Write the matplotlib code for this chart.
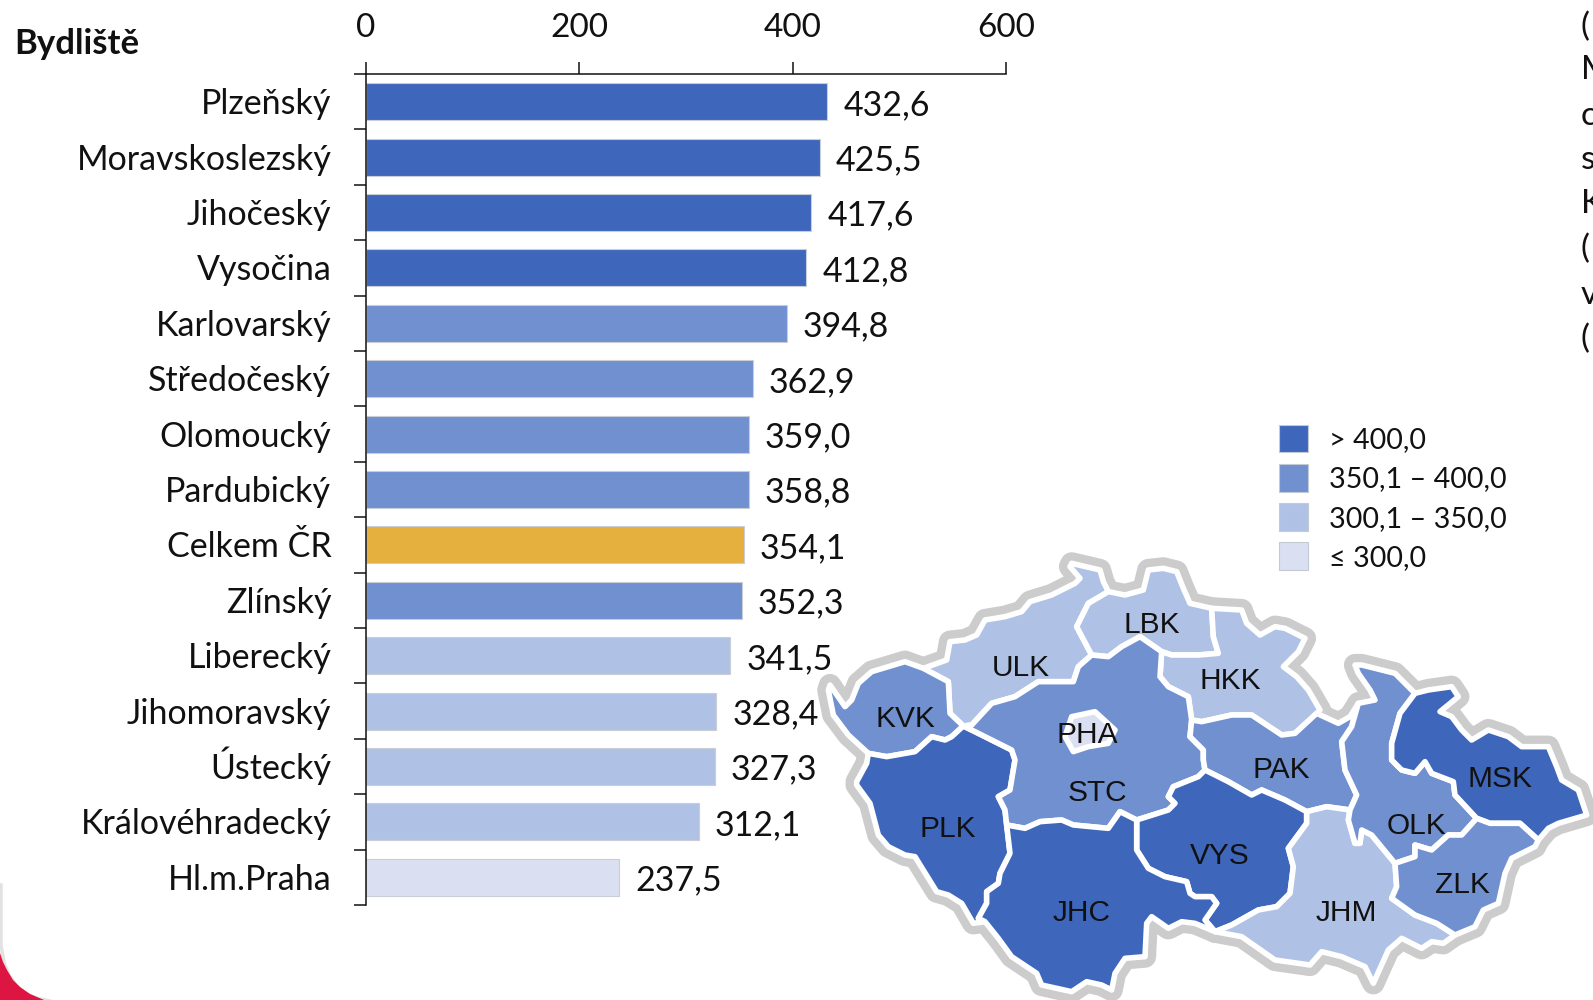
import matplotlib
matplotlib.use('Agg')
import matplotlib.pyplot as plt
from matplotlib.patches import Patch, Polygon

plt.rcParams['font.family'] = ['Lato', 'Open Sans', 'DejaVu Sans']

# data
regions = ['Plzeňský', 'Moravskoslezský', 'Jihočeský', 'Vysočina', 'Karlovarský',
           'Středočeský', 'Olomoucký', 'Pardubický', 'Celkem ČR', 'Zlínský',
           'Liberecký', 'Jihomoravský', 'Ústecký', 'Královéhradecký', 'Hl.m.Praha']
values = [432.6, 425.5, 417.6, 412.8, 394.8, 362.9, 359.0, 358.8, 354.1, 352.3,
          341.5, 328.4, 327.3, 312.1, 237.5]
x_ticks = [0, 200, 400, 600]
legend_labels = ['> 400,0', '350,1 – 400,0', '300,1 – 350,0', '≤ 300,0']
side_text = ['(', 'M', 'c', 's', 'K', '(', 'v', '(']

DARK = '#3E67BC'
MID = '#7090D0'
LIGHT = '#AFC2E6'
PALE = '#DAE0F1'
GOLD = '#E6B03E'


def bar_colour(name, v):
    if name == 'Celkem ČR':
        return GOLD
    if v > 400:
        return DARK
    if v > 350:
        return MID
    if v > 300:
        return LIGHT
    return PALE


# map borders, traced on four 3x crops of the map
def A(pts):
    return [(815 + x / 3, 540 + y / 3) for x, y in pts]


def B(pts):
    return [(1195 + x / 3, 540 + y / 3) for x, y in pts]


def C(pts):
    return [(815 + x / 3, 760 + y / 3) for x, y in pts]


def D(pts):
    return [(1195 + x / 3, 760 + y / 3) for x, y in pts]


def rev(seg):
    return seg[::-1]


ulk_outer = A([(325, 385), (395, 360), (405, 305), (450, 300), (485, 285), (510, 240), (570, 230), (620, 215),
               (645, 185), (710, 165), (780, 130), (795, 115), (765, 80), (770, 70), (855, 90), (865, 125), (880, 155)])
lbk_outer = A([(880, 155), (930, 165), (985, 150), (1000, 90), (1045, 85), (1085, 95), (1105, 145), (1125, 190),
               (1190, 205)])
hkk_outer = B([(50, 205), (140, 210), (155, 250), (195, 285), (240, 260), (270, 265), (330, 295), (310, 335),
               (265, 380), (305, 410), (340, 450), (375, 510)])
pak_outer = B([(365, 520), (430, 550), (465, 530), (490, 490)])
olk_outer = B([(490, 490), (540, 480), (525, 450), (490, 400), (480, 375), (500, 375), (600, 400), (640, 440), (660, 460)])
msk_outer = B([(660, 460), (700, 450), (770, 440), (790, 470), (735, 515), (770, 530), (800, 570), (830, 600),
               (880, 570), (940, 590), (980, 620), (1060, 620), (1085, 680)]) + \
            D([(1100, 60), (1150, 90), (1175, 165), (1090, 190), (1060, 205), (1030, 240)])
zlk_outer = D([(1030, 240), (1020, 260), (950, 295), (930, 340), (910, 430), (865, 450), (840, 500), (780, 525)])
jhm_outer = D([(780, 525), (745, 550), (710, 545), (680, 565), (620, 535), (580, 570), (535, 670), (510, 620),
               (440, 590), (380, 575), (345, 615), (240, 600), (190, 565), (140, 530), (60, 515)])
jhc_outer = D([(60, 515), (0, 490)]) + \
            C([(1100, 485), (1060, 505), (1010, 470), (995, 490), (990, 590), (930, 595), (900, 640), (890, 690),
               (860, 675), (815, 665), (770, 695), (680, 675), (665, 640), (590, 590), (550, 535), (510, 485)])
plk_outer = C([(510, 485), (475, 490), (440, 430), (400, 405), (365, 395), (300, 290), (270, 285), (220, 260),
               (190, 225), (165, 130), (125, 75), (125, 65), (155, 10)]) + A([(160, 640)])
kvk_outer = A([(160, 640), (100, 585), (55, 525), (40, 450), (45, 435), (90, 500), (110, 480), (130, 430),
               (170, 395), (270, 365), (325, 385)])

ulk_lbk = A([(880, 155), (820, 190), (785, 260), (830, 345)])
lbk_stc = A([(830, 345), (880, 350), (920, 320), (975, 290), (1040, 335)])
lbk_hkk = B([(50, 205), (55, 290), (70, 340), (10, 345)]) + A([(1070, 345), (1040, 335)])
stc_hkk = A([(1040, 335), (1035, 410), (1060, 440), (1120, 470), (1130, 540)])
ulk_kvk = A([(325, 385), (400, 425), (405, 520), (445, 558)])
ulk_stc = A([(445, 558), (470, 555), (530, 490), (600, 470), (670, 425), (775, 425), (790, 380), (830, 345)])
kvk_plk = A([(445, 558), (410, 590), (390, 600), (350, 590), (300, 635), (215, 650), (160, 640)])
plk_stc = A([(445, 558), (480, 575), (590, 630), (600, 660)]) + C([(600, 0), (585, 90), (550, 110), (570, 150), (575, 195)])
plk_jhc = C([(575, 195), (585, 280), (555, 340), (550, 370), (515, 395), (515, 430), (490, 475), (510, 485)])
stc_jhc = C([(575, 195), (630, 205), (675, 185), (740, 180), (775, 195), (880, 205), (915, 155), (965, 180)])
jhc_vys = C([(965, 180), (965, 270), (1000, 325), (1050, 350), (1115, 365), (1125, 400)]) + \
          D([(0, 410), (50, 410), (65, 430), (30, 480), (60, 515)])
stc_vys = C([(965, 180), (1060, 150), (1080, 130), (1060, 110), (1075, 80), (1150, 50), (1170, 30)])
stc_pak = A([(1130, 540), (1125, 590), (1165, 630), (1165, 660)]) + C([(1170, 30)])
pak_hkk = A([(1130, 540)]) + B([(20, 545), (110, 525), (170, 525), (260, 585), (300, 580), (365, 520)])
pak_vys = C([(1170, 30)]) + D([(100, 65), (170, 105), (200, 90), (270, 120), (335, 155)])
pak_jhm = D([(335, 155), (395, 140), (465, 150)])
pak_olk = D([(465, 150), (485, 105), (450, 30)]) + B([(440, 605), (470, 560), (490, 490)])
vys_jhm = D([(335, 155), (335, 190), (280, 265), (295, 320), (285, 400), (245, 440), (190, 450), (110, 495), (60, 515)])
jhm_olk = D([(465, 150), (460, 180), (480, 250), (495, 250), (500, 210), (530, 225), (600, 310)])
jhm_zlk = D([(600, 310), (605, 380), (590, 415), (660, 465), (725, 490), (780, 525)])
olk_zlk = D([(600, 310), (660, 290), (660, 255), (710, 270), (760, 225), (800, 225), (845, 175)])
olk_msk = B([(660, 460), (615, 520), (590, 610), (590, 660), (620, 690), (660, 700), (690, 665)]) + \
          D([(710, 40), (775, 65), (780, 105), (845, 175)])
msk_zlk = D([(845, 175), (885, 190), (975, 190), (1030, 240)])

ULK = ulk_outer + ulk_lbk + rev(ulk_stc) + rev(ulk_kvk)
LBK = lbk_outer + lbk_hkk + rev(lbk_stc) + rev(ulk_lbk)
HKK = hkk_outer + rev(pak_hkk) + rev(stc_hkk) + rev(lbk_hkk)
KVK = kvk_outer + ulk_kvk + kvk_plk
PLK = plk_outer + rev(kvk_plk) + plk_stc + plk_jhc
STC = lbk_stc + stc_hkk + stc_pak + rev(stc_vys) + rev(stc_jhc) + rev(plk_stc) + ulk_stc
PAK = pak_hkk + pak_outer + rev(pak_olk) + rev(pak_jhm) + rev(pak_vys) + rev(stc_pak)
VYS = pak_vys + vys_jhm + rev(jhc_vys) + stc_vys
JHC = jhc_outer + rev(plk_jhc) + stc_jhc + jhc_vys
JHM = pak_jhm + jhm_olk + jhm_zlk + jhm_outer + rev(vys_jhm)
OLK = pak_olk + olk_outer + olk_msk + rev(olk_zlk) + rev(jhm_olk)
MSK = msk_outer + rev(msk_zlk) + rev(olk_msk)
ZLK = msk_zlk + zlk_outer + rev(jhm_zlk) + olk_zlk
PHA = A([(840, 515), (900, 570), (880, 610), (820, 620), (775, 635), (750, 590), (770, 530)])

map_shapes = [(ULK, LIGHT), (LBK, LIGHT), (HKK, LIGHT), (KVK, MID), (PLK, DARK), (STC, MID),
              (PAK, MID), (VYS, DARK), (JHC, DARK), (JHM, LIGHT), (OLK, MID), (MSK, DARK),
              (ZLK, MID), (PHA, PALE)]
map_labels = [('LBK', 1152, 625), ('ULK', 1021, 668), ('HKK', 1230, 681), ('KVK', 905, 719),
              ('PHA', 1087, 735), ('PAK', 1281, 770), ('STC', 1097, 793), ('MSK', 1500, 779),
              ('OLK', 1416, 826), ('PLK', 948, 829), ('VYS', 1220, 856), ('ZLK', 1462, 885),
              ('JHC', 1082, 913), ('JHM', 1346, 913)]

W, H = 1593, 1000
fig = plt.figure(figsize=(W / 100, H / 100), dpi=100)


def px_axes(x0, y0, x1, y1):
    return fig.add_axes([x0 / W, 1 - y1 / H, (x1 - x0) / W, (y1 - y0) / H])


# page background: the corner and the clipped text on the right
bg = px_axes(0, 0, W, H)
bg.set_xlim(0, W)
bg.set_ylim(H, 0)
bg.axis('off')
corner = [(0, 953), (3, 962), (7, 970), (13, 980), (20, 987), (30, 994), (44, 1000), (0, 1000)]
bg.plot([1, 1, 4, 9, 16, 25, 36, 50], [885, 945, 963, 975, 985, 993, 998, 1001], color='#e2e2e2', lw=2.5, zorder=1)
bg.add_patch(Polygon(corner, closed=True, fc='#DC1543', ec='none', zorder=2))
for t, y in zip(side_text, [27, 70, 116, 160, 204, 249, 295, 339]):
    bg.text(1581, y, t, fontsize=24, va='center', ha='left', color='#111111')

# bars
ax = px_axes(366, 74, 1006, 905)
ax.patch.set_alpha(0)
pos = list(range(len(regions)))
cols = [bar_colour(n, v) for n, v in zip(regions, values)]
ax.barh(pos, values, height=0.67, color=cols, edgecolor='#c9ced6', linewidth=0.8)
ax.set_xlim(0, 600)
ax.set_ylim(len(regions) - 0.5, -0.5)
ax.xaxis.tick_top()
ax.set_xticks(x_ticks)
ax.set_xticklabels([str(t) for t in x_ticks], fontsize=24)
ax.tick_params(axis='x', length=9, width=1.1, pad=13, color='#111111', labelcolor='#111111')
ax.set_yticks(pos)
ax.set_yticklabels([''] * len(pos))
ax.tick_params(axis='y', which='major', length=0)
ax.set_yticks([i - 0.5 for i in range(len(regions) + 1)], minor=True)
ax.tick_params(axis='y', which='minor', length=9, width=1.1, color='#111111')
for s in ['right', 'bottom']:
    ax.spines[s].set_visible(False)
for s in ['left', 'top']:
    ax.spines[s].set_linewidth(1.1)
    ax.spines[s].set_color('#111111')
for i, (name, v) in enumerate(zip(regions, values)):
    ax.annotate(name, (0, i), xytext=(-25, -9), textcoords='offset points', va='baseline', ha='right',
                fontsize=24.5, color='#111111', annotation_clip=False)
    ax.annotate(f'{v:.1f}'.replace('.', ','), (v, i), xytext=(11.5, -9.5), textcoords='offset points',
                va='baseline', ha='left', fontsize=24.5, color='#111111', annotation_clip=False)
fig.text(14 / W, 1 - 54 / H, 'Bydliště', fontsize=25, fontweight='bold', va='baseline', color='#111111')

# map
mp = px_axes(800, 520, W, H)
mp.set_xlim(800, W)
mp.set_ylim(H, 520)
mp.axis('off')
for pts, c in map_shapes:
    mp.add_patch(Polygon(pts, closed=True, fc='#cccccc', ec='#cccccc', lw=16, joinstyle='round', zorder=1))
for pts, c in map_shapes:
    mp.add_patch(Polygon(pts, closed=True, fc=c, ec='white', lw=4, joinstyle='round', zorder=2))
for name, x, y in map_labels:
    mp.text(x, y, name, fontsize=21.5, family='Liberation Sans', ha='center', va='center', color='#111111', zorder=3)

# legend
handles = [Patch(fc=c, ec='#c4cad4', lw=0.8) for c in [DARK, MID, LIGHT, PALE]]
fig.legend(handles, legend_labels, loc='upper left', bbox_to_anchor=(1279 / W, 1 - 425 / H),
           frameon=False, fontsize=20.6, handlelength=1.02, handleheight=1.1, labelspacing=0.37,
           handletextpad=0.72, borderpad=0, borderaxespad=0, labelcolor='#111111')

fig.savefig('out.png', dpi=100)
